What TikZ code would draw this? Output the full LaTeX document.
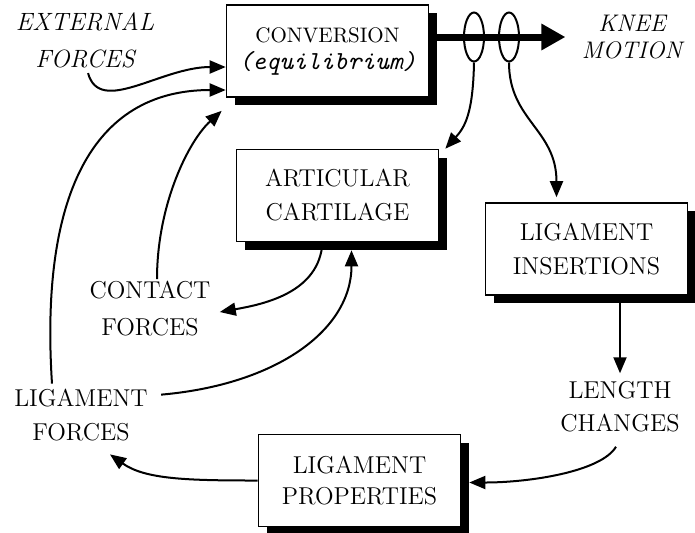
\documentclass[tikz,border=0pt]{standalone}
\usepackage{tikz}
\usetikzlibrary{arrows.meta,shapes.geometric,shadows}

\tikzset{
  txt/.style={align=center, inner sep=0pt, font=\fontsize{12.2}{17}\selectfont},
  blk/.style={txt, draw, fill=white, line width=0.8pt, minimum width=101pt, minimum height=46pt,
    drop shadow={shadow xshift=4pt, shadow yshift=-4pt, fill=black, opacity=1}},
  arr/.style={-{Triangle[length=8pt,width=6.5pt]}, line width=1pt},
  ring/.style={draw, ellipse, line width=1pt, minimum width=10pt, minimum height=24.5pt, inner sep=0pt}
}

\begin{document}
\begin{tikzpicture}[x=0.5pt,y=-0.5pt]
  \useasboundingbox (0,0) rectangle (695,532);
  % blocks
  \node[blk, font=\fontsize{10.5}{13.5}\selectfont] (conv) at (327.5,51) {CONVERSION\\{\ttfamily\itshape\fontsize{13}{13.5}\selectfont(equilibrium)}};
  \node[blk] (art) at (337.5,195.5) {ARTICULAR\\CARTILAGE};
  \node[blk] (ins) at (586.5,249) {LIGAMENT\\INSERTIONS};
  \node[blk, font=\fontsize{12.2}{15.5}\selectfont] (prop) at (359.5,480.5) {LIGAMENT\\PROPERTIES};

  % free labels
  \node[txt, font=\fontsize{12.5}{18.5}\selectfont\itshape] (ext) at (85,40) {EXTERNAL\\FORCES};
  \node[txt, font=\fontsize{12}{13.5}\selectfont\itshape] (knee) at (632,37) {KNEE\\MOTION};
  \node[txt, font=\fontsize{12.2}{18.5}\selectfont] (contact) at (150,309) {CONTACT\\FORCES};
  \node[txt] (lforces) at (81,415) {LIGAMENT\\FORCES};
  \node[txt, font=\fontsize{12.2}{16.5}\selectfont] (length) at (620,407) {LENGTH\\CHANGES};

  % output shaft with the two rings
  \draw[line width=3.5pt, -{Triangle[length=12pt,width=12.5pt]}] (conv.east |- knee.west) -- ([xshift=-8pt]knee.west);
  \node[ring] (r1) at (474,37) {};
  \node[ring] (r2) at (509,37) {};

  % feedback loops
  \draw[arr] ([shift={(1.5pt,-2.5pt)}]ext.south) .. controls +(12,43) and +(-65,0) .. ([yshift=-8pt]conv.west);
  \draw[arr] ([shift={(-14.5pt,2.5pt)}]lforces.north) .. controls +(-12,-185) and +(-135,0) .. ([yshift=-19.5pt]conv.west);
  \draw[arr] ([shift={(3.5pt,1pt)}]contact.north) .. controls +(0,-75) and +(-33,30) .. ([shift={(-2pt,-6.5pt)}]conv.south west);
  \draw[arr] ([xshift=-7.5pt]art.south) .. controls +(-3,50) and +(45,-8) .. ([shift={(4.5pt,-1.5pt)}]contact.east);
  \draw[arr] ([shift={(6.5pt,-3pt)}]lforces.north east) .. controls +(115,-10) and +(0,80) .. ([shift={(7pt,-4pt)}]art.south);
  \draw[arr] (prop.west) .. controls +(-70,0) and +(35,25) .. ([shift={(14.5pt,-6.5pt)}]lforces.south);
  \draw[arr] ([shift={(-2pt,-7pt)}]length.south) .. controls +(-15,25) and +(60,0) .. ([shift={(4pt,-1pt)}]prop.east);
  \draw[arr] (ins.south -| length.north) -- ([yshift=4pt]length.north);
  \draw[arr] (r1.south) .. controls +(-1,50) and +(20,-22) .. ([xshift=3pt]art.north east);
  \draw[arr] (r2.south) .. controls +(0,58) and +(0,-68) .. ([shift={(-15pt,2.5pt)}]ins.north);
\end{tikzpicture}
\end{document}
